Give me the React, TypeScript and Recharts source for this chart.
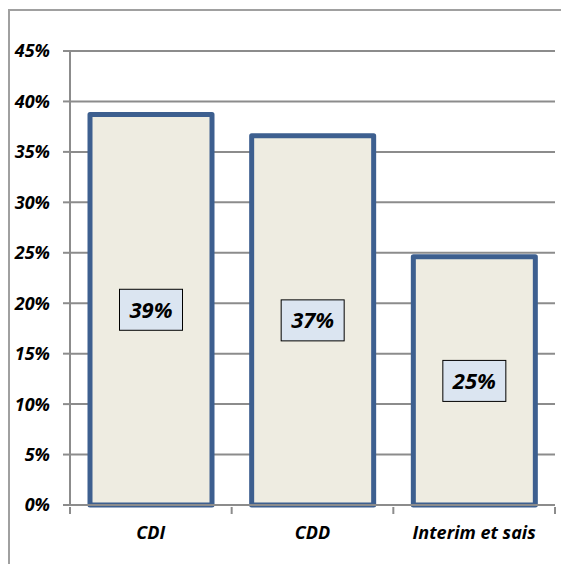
import React from 'react';
import { BarChart, Bar, XAxis, YAxis, CartesianGrid, LabelList } from 'recharts';

const categories = ['CDI', 'CDD', 'Interim et sais'];
const shares = [38.7, 36.6, 24.6];
const yTicks = [0, 5, 10, 15, 20, 25, 30, 35, 40, 45];

const data = categories.map((name, i) => ({ name, share: shares[i] }));

const W = 569;
const H = 572;
const margin = { top: 51, right: 14, left: 0, bottom: 27 };
const yAxisWidth = 70;
const band = (W - margin.right - yAxisWidth) / categories.length;

const font = "'Open Sans', Lato, sans-serif";
const gray = '#8c8c8c';

function CategoryTick(props: any) {
  const { x, y, payload, index } = props;
  const left = x - band / 2;
  return (
    <g>
      <line x1={left} y1={y - 6} x2={left} y2={y + 1} stroke={gray} strokeWidth={2} />
      {index === categories.length - 1 && (
        <line x1={x + band / 2} y1={y - 6} x2={x + band / 2} y2={y + 1} stroke={gray} strokeWidth={2} />
      )}
      <text
        x={x}
        y={y + 26}
        textAnchor="middle"
        fontFamily={font}
        fontSize={18}
        fontWeight="bold"
        fontStyle="italic"
        fill="#000"
      >
        {payload.value}
      </text>
    </g>
  );
}

function ValueBox(props: any) {
  const { x, y, width, height, value } = props;
  const cx = x + width / 2;
  const cy = y + height / 2;
  const bw = 63;
  const bh = 41;
  return (
    <g>
      <rect x={cx - bw / 2} y={cy - bh / 2} width={bw} height={bh} fill="#dbe5f1" stroke="#000" strokeWidth={1} />
      <text
        x={cx}
        y={cy}
        dy="0.36em"
        textAnchor="middle"
        fontFamily={font}
        fontSize={22}
        fontWeight="bold"
        fontStyle="italic"
        fill="#000"
      >
        {`${Math.round(value)}%`}
      </text>
    </g>
  );
}

export default function App() {
  return (
    <div style={{ position: 'relative', width: W, height: H, margin: -8, overflow: 'hidden', background: '#fff' }}>
      <div
        style={{
          position: 'absolute',
          left: 8,
          top: 9,
          width: 620,
          height: 620,
          border: '2px solid #a0a0a0',
          boxSizing: 'border-box',
        }}
      />
      <div style={{ position: 'absolute', left: 0, top: 0 }}>
        <BarChart width={W} height={H} data={data} margin={margin}>
          <CartesianGrid vertical={false} stroke={gray} strokeWidth={2} />
          <XAxis
            dataKey="name"
            height={40}
            axisLine={{ stroke: gray, strokeWidth: 2 }}
            tickLine={false}
            tick={<CategoryTick />}
            interval={0}
          />
          <YAxis
            width={yAxisWidth}
            domain={[0, 45]}
            ticks={yTicks}
            interval={0}
            tickFormatter={(v: number) => `${v}%`}
            axisLine={{ stroke: gray, strokeWidth: 2 }}
            tickLine={{ stroke: gray, strokeWidth: 2 }}
            tickSize={7}
            tickMargin={13}
            tick={{ fontFamily: font, fontSize: 18, fontWeight: 'bold', fontStyle: 'italic', fill: '#000' }}
          />
          <Bar
            dataKey="share"
            barSize={122}
            fill="#eeece1"
            stroke="#3d5f8f"
            strokeWidth={5}
            strokeLinejoin="round"
            isAnimationActive={false}
          >
            <LabelList dataKey="share" content={<ValueBox />} />
          </Bar>
        </BarChart>
      </div>
    </div>
  );
}
